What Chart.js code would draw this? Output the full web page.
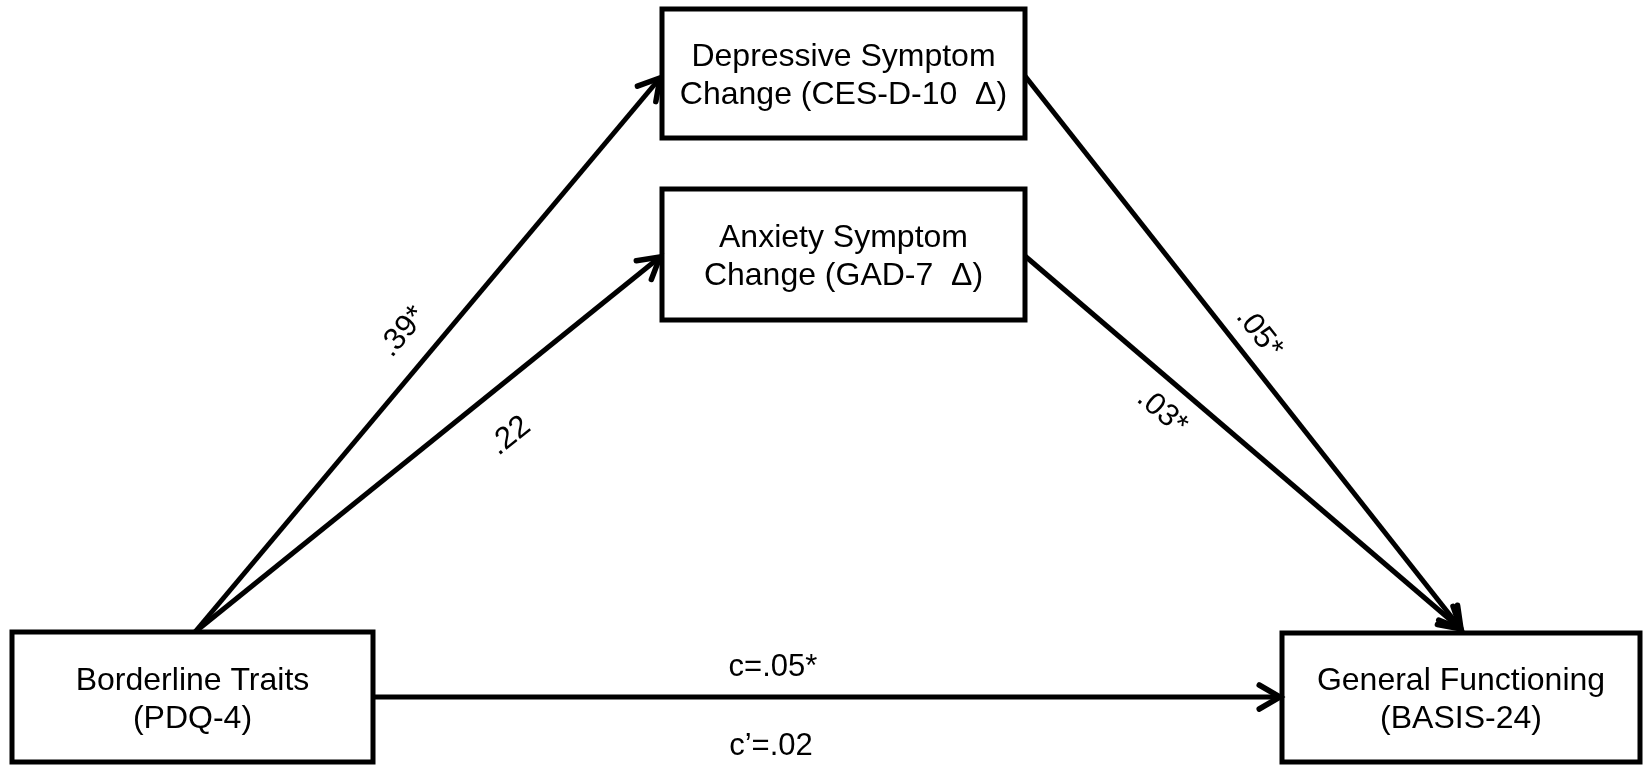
<!DOCTYPE html>
<html>
<head>
<meta charset="utf-8">
<script src="https://cdn.jsdelivr.net/npm/chart.js@4.4.1/dist/chart.umd.min.js"></script>
<style>
  html, body { margin: 0; padding: 0; background: #fff; }
  #wrap { width: 1648px; height: 765px; }
</style>
</head>
<body>
<div id="wrap"><canvas id="pathChart" width="1648" height="765"></canvas></div>
<script>
// Nodes: first and second text line of each box
const nodeTitles = ['Borderline Traits', 'Depressive Symptom', 'Anxiety Symptom', 'General Functioning'];
const nodeMeasures = ['(PDQ-4)', 'Change (CES-D-10  Δ)', 'Change (GAD-7  Δ)', '(BASIS-24)'];

// Paths (index into nodes) and their coefficients
const pathFrom = [0, 0, 1, 2, 0];
const pathTo = [1, 2, 3, 3, 3];
const pathLabels = ['.39*', '.22', '.05*', '.03*', 'c=.05*'];
const directPathLabel = 'c’=.02';

// Layout (diagram units = pixels of the 1648x765 canvas)
const boxes = [
    { x0: 12, y0: 632, x1: 373, y1: 762 },
    { x0: 662, y0: 9, x1: 1025, y1: 138 },
    { x0: 662, y0: 189, x1: 1025, y1: 320 },
    { x0: 1282, y0: 633, x1: 1640, y1: 762 }
];
const pathEnds = [
    { x0: 195, y0: 632, x1: 660, y1: 78 },
    { x0: 195, y0: 632, x1: 660, y1: 257 },
    { x0: 1025, y0: 76, x1: 1461, y1: 629 },
    { x0: 1025, y0: 256, x1: 1461, y1: 629 },
    { x0: 373, y0: 697, x1: 1280, y1: 697 }
];
const labelSpots = [
    { x: 403, y: 332 },
    { x: 510, y: 436 },
    { x: 1259, y: 333 },
    { x: 1162, y: 412 },
    { x: 773, y: 667 }
];
const directLabelSpot = { x: 771, y: 746 };

const FONT = '"Liberation Sans", Arial, sans-serif';
const INK = '#000';
const STROKE = 5;

const boxDatasets = boxes.map((b, i) => ({
    label: nodeTitles[i],
    data: [
        { x: b.x0, y: b.y0 }, { x: b.x1, y: b.y0 },
        { x: b.x1, y: b.y1 }, { x: b.x0, y: b.y1 }, { x: b.x0, y: b.y0 }
    ],
    showLine: true,
    borderColor: INK,
    borderWidth: STROKE,
    borderJoinStyle: 'miter',
    borderCapStyle: 'square',
    pointRadius: 0,
    fill: false,
    tension: 0,
    isBox: true
}));

const pathDatasets = pathLabels.map((lab, i) => {
    const p = pathEnds[i];
    return {
        label: lab,
        data: [{ x: p.x0, y: p.y0 }, { x: p.x1, y: p.y1 }],
        showLine: true,
        borderColor: INK,
        borderWidth: STROKE,
        borderCapStyle: 'butt',
        pointRadius: 0,
        fill: false,
        tension: 0,
        isPath: true,
        pathIndex: i
    };
});

// arrowheads + all text
const diagramText = {
    id: 'diagramText',
    afterDatasetsDraw(chart) {
        const { ctx, scales: { x, y } } = chart;
        ctx.save();

        // open arrowheads at the end of each path
        chart.data.datasets.forEach((ds, di) => {
            if (!ds.isPath) return;
            const pts = chart.getDatasetMeta(di).data;
            const a = pts[0], b = pts[pts.length - 1];
            const ang = Math.atan2(b.y - a.y, b.x - a.x);
            const len = 24, spread = Math.PI / 6;
            ctx.beginPath();
            ctx.moveTo(b.x - len * Math.cos(ang - spread), b.y - len * Math.sin(ang - spread));
            ctx.lineTo(b.x, b.y);
            ctx.lineTo(b.x - len * Math.cos(ang + spread), b.y - len * Math.sin(ang + spread));
            ctx.strokeStyle = INK;
            ctx.lineWidth = STROKE + 0.5;
            ctx.lineJoin = 'miter';
            ctx.lineCap = 'round';
            ctx.stroke();
        });

        // node text
        ctx.fillStyle = INK;
        ctx.textAlign = 'center';
        ctx.textBaseline = 'middle';
        ctx.font = '32px ' + FONT;
        boxes.forEach((b, i) => {
            const cx = x.getPixelForValue((b.x0 + b.x1) / 2);
            const cy = y.getPixelForValue((b.y0 + b.y1) / 2);
            ctx.fillText(nodeTitles[i], cx, cy - 16);
            ctx.fillText(nodeMeasures[i], cx, cy + 22);
        });

        // path coefficients, rotated along the diagonal paths
        ctx.font = '31px ' + FONT;
        pathLabels.forEach((lab, i) => {
            const p = pathEnds[i];
            const px = x.getPixelForValue(labelSpots[i].x);
            const py = y.getPixelForValue(labelSpots[i].y);
            const ang = Math.atan2(
                y.getPixelForValue(p.y1) - y.getPixelForValue(p.y0),
                x.getPixelForValue(p.x1) - x.getPixelForValue(p.x0)
            );
            ctx.save();
            ctx.translate(px, py);
            ctx.rotate(ang);
            ctx.fillText(lab, 0, 0);
            ctx.restore();
        });
        ctx.fillText(directPathLabel,
            x.getPixelForValue(directLabelSpot.x),
            y.getPixelForValue(directLabelSpot.y));

        ctx.restore();
    }
};

new Chart(document.getElementById('pathChart'), {
    type: 'scatter',
    data: { datasets: [...boxDatasets, ...pathDatasets] },
    options: {
        responsive: false,
        animation: false,
        devicePixelRatio: 1,
        layout: { padding: 0 },
        scales: {
            x: { type: 'linear', min: 0, max: 1648, display: false },
            y: { type: 'linear', min: 0, max: 765, reverse: true, display: false }
        },
        plugins: {
            legend: { display: false },
            tooltip: { enabled: false }
        }
    },
    plugins: [diagramText]
});
</script>
</body>
</html>
